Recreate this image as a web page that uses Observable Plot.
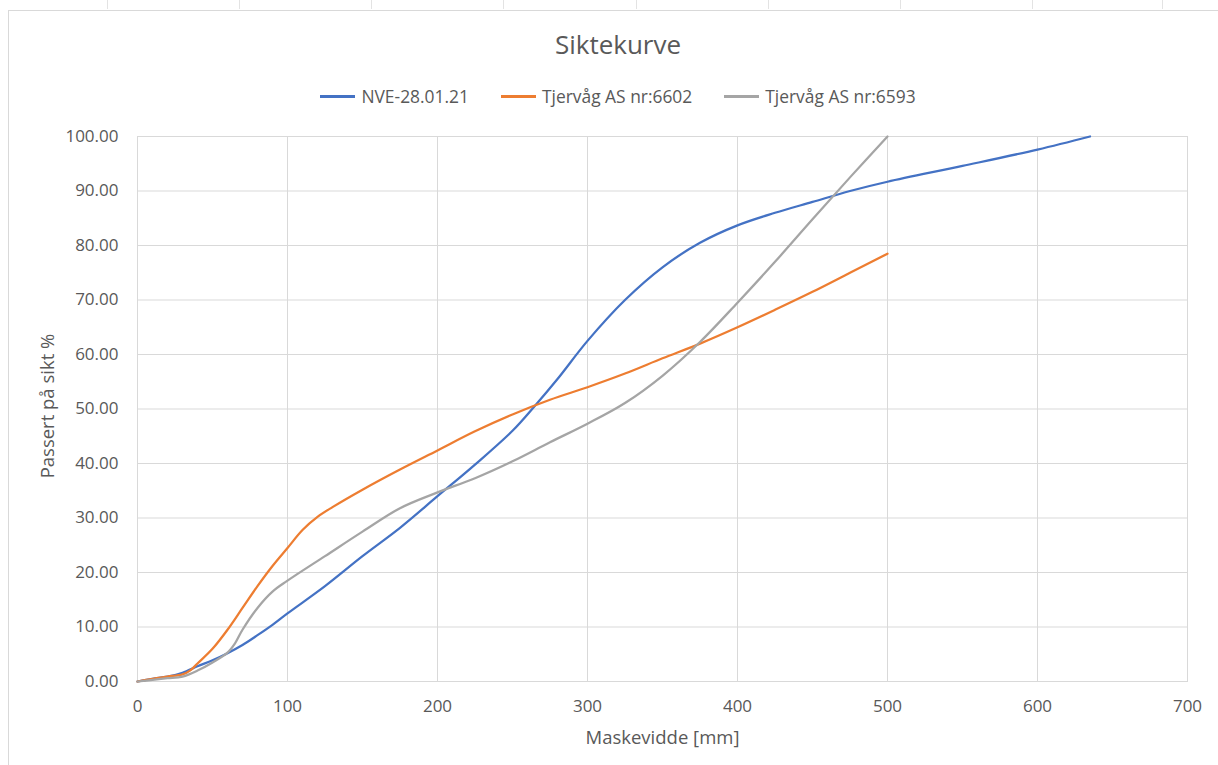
<!DOCTYPE html>
<html>
<head>
<meta charset="utf-8">
<script src="https://cdn.jsdelivr.net/npm/d3@7"></script>
<script src="https://cdn.jsdelivr.net/npm/@observablehq/plot@0.6"></script>
<style>
  html, body { margin: 0; padding: 0; background: #fff; }
  #page { position: relative; width: 1218px; height: 765px; overflow: hidden; font-family: "Open Sans", sans-serif; color: #595959; }
  #frame { position: absolute; left: 8px; top: 10px; width: 1300px; height: 900px; border-left: 1px solid #d9d9d9; border-top: 1px solid #d9d9d9; }
  .colmark { position: absolute; top: 0; width: 1px; height: 9px; background: #e3e3e3; }
  #chart { position: absolute; left: 0; top: 0; }
  #title { position: absolute; left: 8px; width: 1220px; top: 26px; text-align: center; font-size: 26px; color: #595959; }
  #legend { position: absolute; left: 8px; width: 1220px; top: 84px; display: flex; justify-content: center; gap: 32px; font-size: 17.4px; color: #595959; }
  .item { display: flex; align-items: center; gap: 6px; }
  .swatch { width: 35px; height: 3px; }
</style>
</head>
<body>
<div id="page">
  <div id="frame"></div>
  <div id="chart"></div>
  <div id="title"></div>
  <div id="legend"></div>
</div>
<script>
// Sieve curves: passing percentage against mesh width
const chartTitle = "Siktekurve";
const xTitle = "Maskevidde [mm]";
const yTitle = "Passert på sikt %";

const seriesNames = ["NVE-28.01.21", "Tjervåg AS nr:6602", "Tjervåg AS nr:6593"];
const seriesColors = ["#4472C4", "#ED7D31", "#A5A5A5"];

const nveMm  = [0, 10, 20, 30, 40, 50, 60, 70, 80, 90, 100, 125, 150, 175, 200, 225, 250, 265, 280, 300, 325, 350, 375, 400, 425, 450, 475, 500, 550, 600, 635];
const nvePct = [0, 0.5, 0.9, 1.6, 2.8, 3.9, 5.2, 6.7, 8.5, 10.4, 12.5, 17.5, 23.0, 28.2, 34.0, 39.8, 46.0, 50.6, 55.5, 62.5, 70.0, 76.0, 80.5, 83.7, 86.0, 88.0, 90.0, 91.7, 94.6, 97.6, 100.0];

const t6602Mm  = [0, 10, 20, 30, 35, 40, 50, 60, 70, 80, 90, 100, 110, 120, 130, 150, 175, 200, 225, 250, 275, 300, 325, 350, 375, 400, 425, 450, 475, 500];
const t6602Pct = [0, 0.5, 0.9, 1.3, 2.0, 3.3, 6.0, 9.5, 13.5, 17.5, 21.2, 24.5, 27.8, 30.2, 32.0, 35.2, 38.9, 42.4, 45.9, 49.0, 51.7, 54.0, 56.5, 59.3, 62.0, 65.0, 68.2, 71.5, 75.0, 78.5];

const t6593Mm  = [0, 10, 20, 30, 40, 50, 60, 65, 70, 80, 90, 100, 125, 150, 175, 200, 225, 250, 275, 300, 325, 350, 375, 400, 425, 450, 475, 500];
const t6593Pct = [0, 0.3, 0.6, 0.9, 2.0, 3.5, 5.3, 7.0, 9.5, 13.5, 16.5, 18.5, 23.0, 27.5, 31.8, 34.7, 37.3, 40.4, 43.9, 47.3, 51.1, 56.1, 62.3, 69.5, 77.0, 84.8, 92.5, 100.0];

const xTicks = [0, 100, 200, 300, 400, 500, 600, 700];
const yTicks = [0, 10, 20, 30, 40, 50, 60, 70, 80, 90, 100];

const rows = [
  ...nveMm.map((mm, i) => ({series: seriesNames[0], mm, pct: nvePct[i]})),
  ...t6602Mm.map((mm, i) => ({series: seriesNames[1], mm, pct: t6602Pct[i]})),
  ...t6593Mm.map((mm, i) => ({series: seriesNames[2], mm, pct: t6593Pct[i]}))
];

const chart = Plot.plot({
  width: 1218,
  height: 765,
  marginLeft: 137,
  marginRight: 31,
  marginTop: 136,
  marginBottom: 84,
  style: {fontFamily: "'Open Sans', sans-serif", fontSize: "17px", color: "#595959", background: "transparent"},
  x: {domain: [0, 700], label: null},
  y: {domain: [0, 100], label: null},
  color: {domain: seriesNames, range: seriesColors},
  marks: [
    Plot.gridX(xTicks, {stroke: "#d9d9d9", strokeOpacity: 1, strokeWidth: 1}),
    Plot.gridY(yTicks, {stroke: "#d9d9d9", strokeOpacity: 1, strokeWidth: 1}),
    Plot.frame({stroke: "#d9d9d9", strokeWidth: 1}),
    Plot.axisX(xTicks, {tickSize: 0, tickPadding: 18, tickFormat: d3.format("d"), label: null}),
    Plot.axisY(yTicks, {tickSize: 0, tickPadding: 19, tickFormat: d3.format(".2f"), label: null}),
    Plot.text([xTitle], {frameAnchor: "bottom", dy: 57, lineAnchor: "middle", textAnchor: "middle", fontSize: 18.5, fill: "#595959"}),
    Plot.text([yTitle], {frameAnchor: "left", dx: -89, dy: -3, rotate: -90, textAnchor: "middle", lineAnchor: "middle", fontSize: 18.5, fill: "#595959"}),
    Plot.line(rows, {x: "mm", y: "pct", z: "series", stroke: "series", strokeWidth: 2.25, curve: "catmull-rom"})
  ]
});
document.getElementById("chart").appendChild(chart);

document.getElementById("title").textContent = chartTitle;

const legend = document.getElementById("legend");
seriesNames.forEach((name, i) => {
  const item = document.createElement("div");
  item.className = "item";
  const sw = document.createElement("span");
  sw.className = "swatch";
  sw.style.background = seriesColors[i];
  const label = document.createElement("span");
  label.textContent = name;
  item.appendChild(sw);
  item.appendChild(label);
  legend.appendChild(item);
});

// spreadsheet column separators above the chart frame
[107, 239, 371, 503, 636, 768, 900, 1032, 1162].forEach(x => {
  const m = document.createElement("div");
  m.className = "colmark";
  m.style.left = x + "px";
  document.getElementById("page").appendChild(m);
});
</script>
</body>
</html>
